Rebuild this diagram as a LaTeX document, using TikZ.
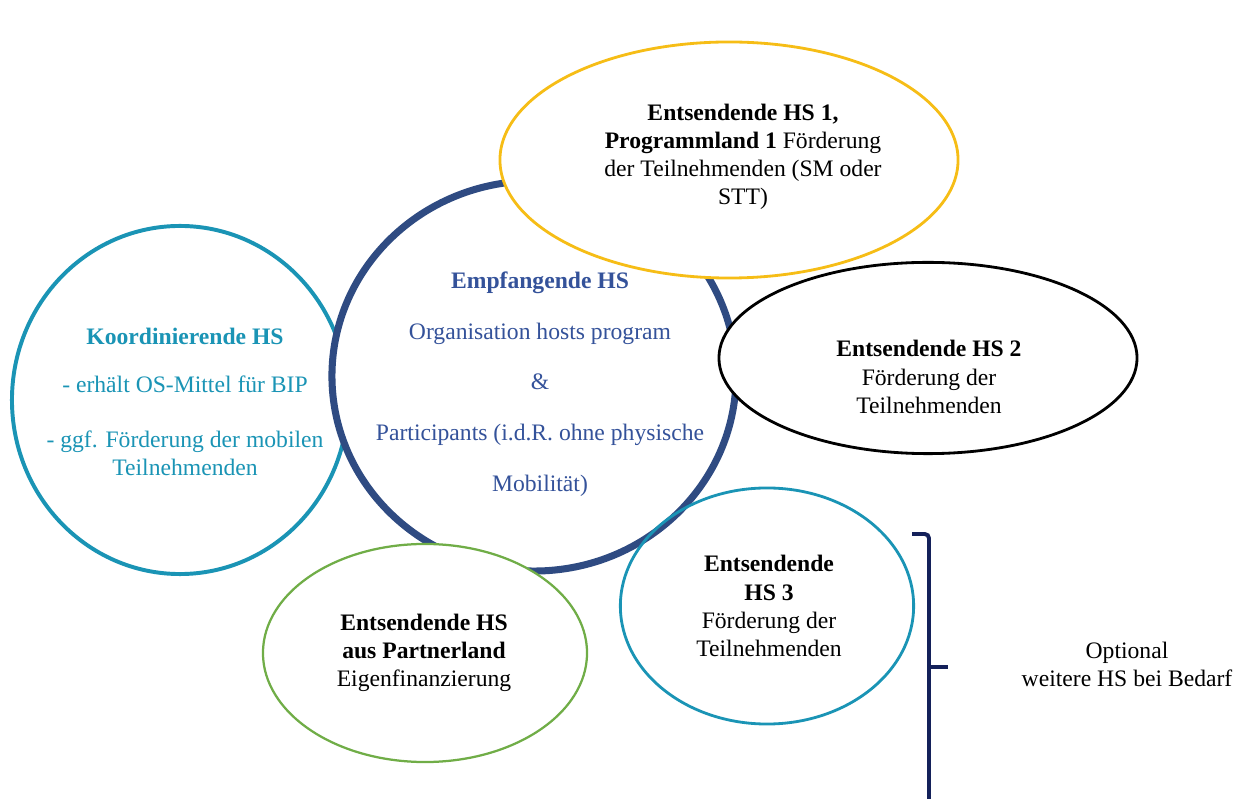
\documentclass[tikz,border=0pt]{standalone}
\usepackage{fontspec}
\setmainfont{Liberation Serif}
\usetikzlibrary{shapes.geometric}

\definecolor{hsyellow}{HTML}{F6BD16}
\definecolor{hsblue}{HTML}{2F4B82}
\definecolor{hstext}{HTML}{34529A}
\definecolor{hscyan}{HTML}{1A94B5}
\definecolor{hsgreen}{HTML}{70AD47}
\definecolor{hsnavy}{HTML}{14215A}

\begin{document}
\begin{tikzpicture}[x=0.025cm, y=-0.025cm,
hs/.style={ellipse, inner sep=0pt, fill=white},
txt/.style={align=center, font=\fontsize{16.8}{20}\selectfont}
]
\useasboundingbox (0,0) rectangle (1239,799);

% ---------- KOORDINIERENDE HS ----------
\node[hs, draw=hscyan, line width=2.8pt, minimum width=8.4cm, minimum height=8.7cm] (koord) at (180,400) {};
\node[txt, text=hscyan] (koordtxt) at (185,402) {\textbf{Koordinierende HS}\\[14pt]
- erhält OS-Mittel für BIP\\[19pt]
- ggf. Förderung der mobilen\\ Teilnehmenden};

% ---------- EMPFANGENDE HS ----------
\node[hs, draw=hsblue, line width=5pt, minimum width=10.1cm, minimum height=9.75cm] (empf) at (534,376) {};
\node[txt, text=hstext] (empftxt) at (540,384) {\textbf{Empfangende HS}\\[16pt]
Organisation hosts program\\[16pt]
\&\\[16pt]
Participants (i.d.R. ohne physische\\[16pt]
Mobilität)};

% ---------- ENTSENDENDE HS 1 ----------
\node[hs, draw=hsyellow, line width=2pt, minimum width=11.45cm, minimum height=5.9cm] (hs1) at (729,160) {};
\node[txt] (hs1txt) at (743,157) {\textbf{Entsendende HS 1,}\\
\textbf{Programmland 1} Förderung\\
der Teilnehmenden (SM oder\\
STT)};

% ---------- ENTSENDENDE HS 2 ----------
\node[hs, draw=black, line width=2pt, minimum width=10.45cm, minimum height=4.78cm] (hs2) at (928,358) {};
\node[txt] (hs2txt) at (929,377) {\textbf{Entsendende HS 2}\\
Förderung der\\
Teilnehmenden};

% ---------- PARTNERLAND ----------
\node[hs, draw=hsgreen, line width=1.6pt, minimum width=8.1cm, minimum height=5.45cm] (partner) at (425,653) {};
\node[txt] (partnertxt) at (424,653) {\textbf{Entsendende HS}\\
\textbf{aus Partnerland}\\
Eigenfinanzierung};

% ---------- ENTSENDENDE HS 3 ----------
\node[hs, fill=none, draw=hscyan, line width=2pt, minimum width=7.33cm, minimum height=5.9cm] (hs3) at (767,606) {};
\node[txt] (hs3txt) at (769,606) {\textbf{Entsendende}\\
\textbf{HS 3}\\
Förderung der\\
Teilnehmenden};

% ---------- OPTIONAL ----------
\coordinate (brtop) at (912,534);
\coordinate (brmid) at (929,667);
\coordinate (brtip) at (948,667);
\coordinate (brbot) at (929,801);
\draw[hsnavy, line width=2.8pt, rounded corners=3pt] (brtop) -| (brmid) -- (brbot);
\draw[hsnavy, line width=2.8pt] (brmid) -- (brtip);
\node[txt] (opt) at (1127,664) {Optional\\ weitere HS bei Bedarf};
\end{tikzpicture}
\end{document}
